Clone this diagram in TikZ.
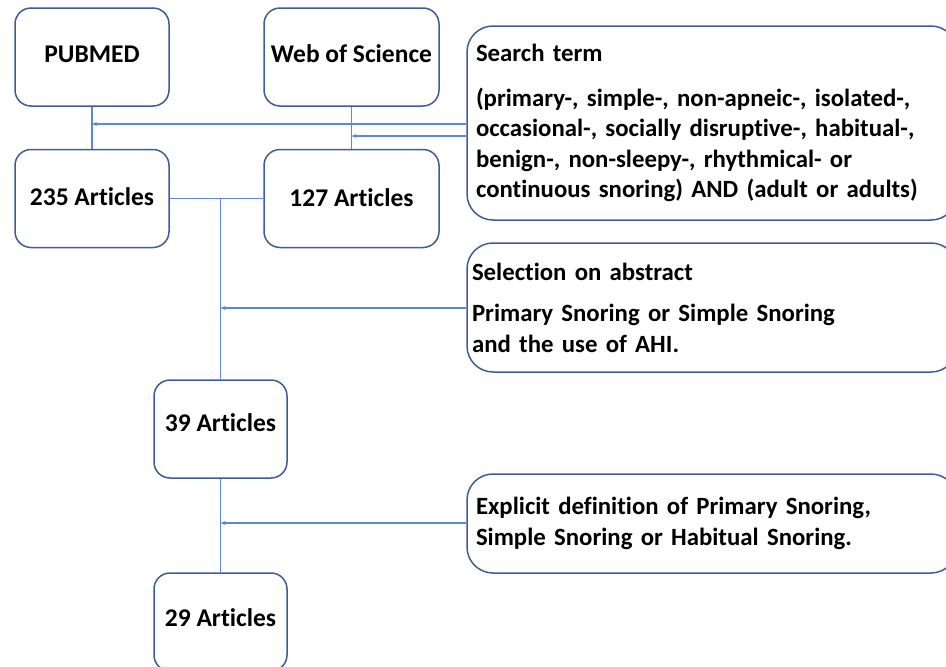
\documentclass[tikz,border=0pt]{standalone}
\usepackage{fontspec}
\setmainfont{Carlito}[Ligatures=NoCommon]
\usepackage{tikz}
\usetikzlibrary{arrows.meta}
\pgfdeclarelayer{bg}
\pgfsetlayers{bg,main}
\definecolor{boxblue}{RGB}{62,92,150}
\definecolor{lineblue}{RGB}{95,135,212}
\tikzset{
    box/.style={rectangle, draw=boxblue, line width=1.5pt, rounded corners=16pt, minimum width=#1, minimum height=98pt, inner sep=0pt, font=\fontsize{25.5}{30}\selectfont\bfseries}
}
\tikzset{
    note/.style={rectangle, draw=boxblue, line width=1.5pt, rounded corners=26pt, minimum width=490pt, inner xsep=9pt, inner ysep=0pt, text width=472pt, align=left, font=\fontsize{24.8}{30.6}\selectfont\bfseries}
}
\tikzset{conn/.style={draw=lineblue, line width=1.4pt}}

\begin{document}
\begin{tikzpicture}[x=1pt, y=-1pt]
        \useasboundingbox (0,0) rectangle (946,667);
        \clip (0,0) rectangle (946,667);
        \node (v0) [box=154pt, text depth=6pt] at (92,57) {PUBMED};
        \node (v1) [box=175pt, text depth=6pt] at (351.5,57) {Web of Science};
        \node (v2) [box=154pt, text depth=3pt] at (92,198.5) {235 Articles};
        \node (v3) [box=175pt, text depth=2pt] at (351.5,198.5) {127 Articles};
        \node (v4) [note, minimum height=194pt] at (712,123) {Search term\\[14pt]
(primary-, simple-, non-apneic-, isolated-,\\
occasional-, socially disruptive-, habitual-,\\
benign-, non-sleepy-, rhythmical- or\\
continuous snoring) AND (adult or adults)};
        \node (v5) [note, minimum height=129pt, inner xsep=5pt, text width=480pt] at (712,307.5) {Selection on abstract\\[11pt]
Primary Snoring or Simple Snoring\\
and the use of AHI.};
        \node (v6) [box=133pt, text depth=12pt] at (220.5,429) {39 Articles};
        \node (v7) [note, minimum height=99pt] at (712,523.5) {Explicit definition of Primary Snoring,\\
Simple Snoring or Habitual Snoring.};
        \node (v8) [box=133pt, text depth=8pt] at (220.5,622) {29 Articles};
        \coordinate (c0) at (92,124);
        \coordinate (c1) at (351.5,136);
        \coordinate (c2) at (220.5,308);
        \coordinate (c3) at (220.5,523);
        \begin{pgfonlayer}{bg}
                \draw [conn] (v0) -- (v2);
                \draw [conn] (v1) -- (v3);
                \draw [conn, -{Stealth[length=5pt, width=4pt]}] (v4.west |- c0) -- (c0);
                \draw [conn, -{Stealth[length=5pt, width=4pt]}] (v4.west |- c1) -- (c1);
                \draw [conn] (v2) -- (v3);
                \draw [conn] (v6 |- v2) -- (v6);
                \draw [conn, -{Stealth[length=5pt, width=4pt]}] (v5.west |- c2) -- (c2);
                \draw [conn] (v6) -- (v8);
                \draw [conn, -{Stealth[length=5pt, width=4pt]}] (v7.west |- c3) -- (c3);
        \end{pgfonlayer}
\end{tikzpicture}
\end{document}
